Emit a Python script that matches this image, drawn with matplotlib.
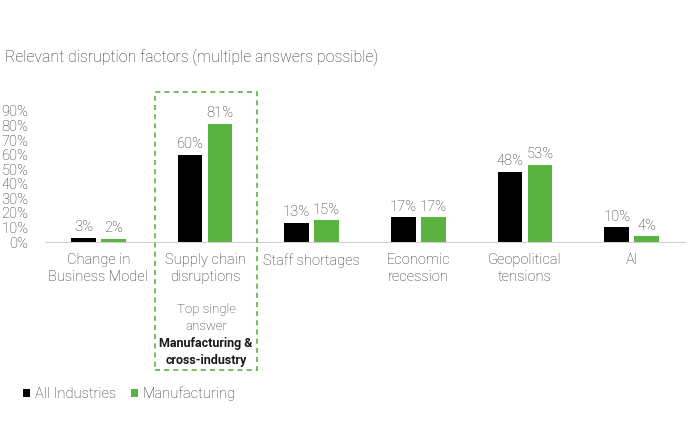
import matplotlib.pyplot as plt
from matplotlib.patches import Rectangle
import numpy as np

plt.rcParams['font.family'] = ['Roboto', 'DejaVu Sans']
plt.rcParams['font.weight'] = 'light'

categories = ['Change in\nBusiness Model', 'Supply chain\ndisruptions', 'Staff shortages',
              'Economic\nrecession', 'Geopolitical\ntensions', 'AI']
all_industries = [3, 60, 13, 17, 48, 10]
manufacturing = [2, 81, 15, 17, 53, 4]
yticks = [0, 10, 20, 30, 40, 50, 60, 70, 80, 90]

black = '#000000'
green = '#5AB33E'
grey = '#2e2e2e'

fig = plt.figure(figsize=(7, 4.41), dpi=100)
ax = fig.add_axes([45 / 700, 1 - 242 / 441, 640 / 700, 131 / 441])

x = np.arange(len(categories))
w = 0.23
gap = 0.025
b1 = ax.bar(x - w / 2 - gap, all_industries, w, color=black, label='All Industries')
b2 = ax.bar(x + w / 2 + gap, manufacturing, w, color=green, label='Manufacturing')

for bars, vals in [(b1, all_industries), (b2, manufacturing)]:
    for r, v in zip(bars, vals):
        ax.text(r.get_x() + r.get_width() / 2, v + 2.5, f'{v}%', ha='center', va='bottom',
                fontsize=10.5, color=grey)

ax.set_xlim(-0.5, len(categories) - 0.5)
ax.set_ylim(0, 90)
ax.set_yticks(yticks)
ax.set_yticklabels([f'{t}%' for t in yticks], fontsize=10.5, color=grey)
ax.set_xticks(x)
ax.set_xticklabels(categories, fontsize=10.5, color=grey, linespacing=1.25)
ax.tick_params(length=0, pad=8)
ax.tick_params(axis='y', pad=12)
for s in ['top', 'right', 'left']:
    ax.spines[s].set_visible(False)
ax.spines['bottom'].set_color('#d0d0d0')

fig.text(5 / 700, 1 - 57 / 441, 'Relevant disruption factors (multiple answers possible)',
         fontsize=11.4, color=grey, va='center')

fig.add_artist(Rectangle((155 / 700, 1 - 370 / 441), 102 / 700, 278 / 441,
                         transform=fig.transFigure, fill=False, edgecolor=green,
                         linestyle=(0, (3, 2.5)), lw=1.2))

fig.text(206 / 700, 1 - 318 / 441, 'Top single\nanswer', ha='center', va='center',
         fontsize=9.5, color=grey, linespacing=1.35)
fig.text(206 / 700, 1 - 352 / 441, 'Manufacturing &\ncross-industry', ha='center', va='center',
         fontsize=9, color='#1a1a1a', fontweight='bold', linespacing=1.35)

fig.legend(handles=[b1, b2], loc='center left', bbox_to_anchor=(10 / 700, 1 - 394 / 441),
           frameon=False, ncol=2, fontsize=10.5, handlelength=0.5, handleheight=0.5,
           handletextpad=0.3, columnspacing=1.0, labelcolor=grey)

fig.savefig('out.png', dpi=100)
